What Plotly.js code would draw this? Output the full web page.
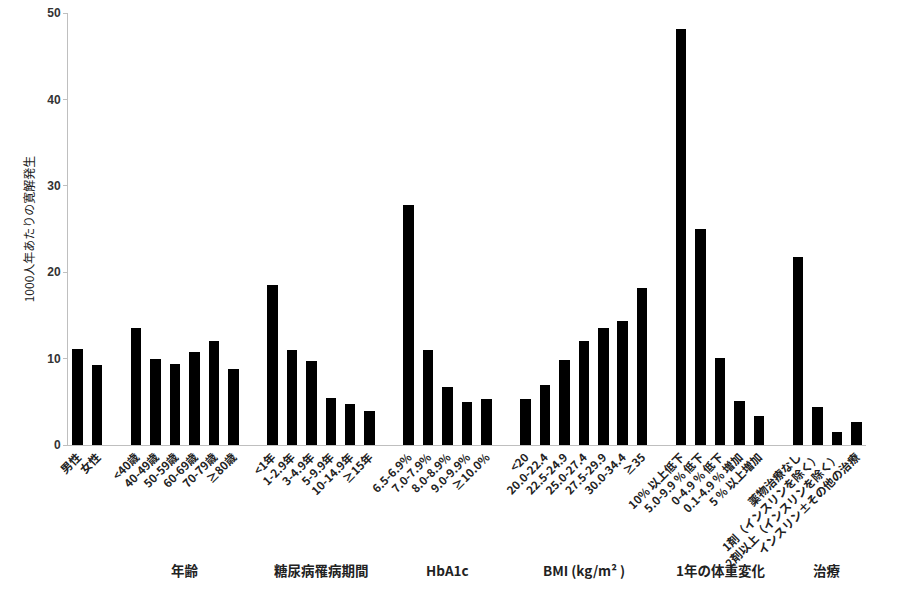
<!DOCTYPE html>
<html>
<head>
<meta charset="utf-8">
<script src="https://cdn.plot.ly/plotly-3.0.1.min.js"></script>
<style>html,body{margin:0;padding:0;background:#fff;}#chart{width:900px;height:594px;}</style>
</head>
<body>
<div id="chart"></div>
<script>
// Group names
var groupNames = ["", "年齢", "糖尿病罹病期間", "HbA1c", "BMI (kg/m² )", "1年の体重変化", "治療"];
// Category labels per group
var sexLabels = ["男性", "女性"];
var ageLabels = ["<40歳", "40-49歳", "50-59歳", "60-69歳", "70-79歳", "≥80歳"];
var durationLabels = ["<1年", "1-2.9年", "3-4.9年", "5-9.9年", "10-14.9年", "≥15年"];
var hba1cLabels = ["6.5-6.9%", "7.0-7.9%", "8.0-8.9%", "9.0-9.9%", "≥10.0%"];
var bmiLabels = ["<20", "20.0-22.4", "22.5-24.9", "25.0-27.4", "27.5-29.9", "30.0-34.4", "≥35"];
var weightLabels = ["10% 以上低下", "5.0-9.9 % 低下", "0-4.9 % 低下", "0.1-4.9 % 増加", "5 % 以上増加"];
var treatLabels = ["薬物治療なし", "1剤（インスリンを除く）", "2剤以上（インスリンを除く）", "インスリン±その他の治療"];
// Values (remission per 1000 person-years)
var sexValues = [11.1, 9.3];
var ageValues = [13.5, 10.0, 9.4, 10.8, 12.0, 8.8];
var durationValues = [18.5, 11.0, 9.7, 5.4, 4.7, 3.9];
var hba1cValues = [27.8, 11.0, 6.7, 5.0, 5.3];
var bmiValues = [5.3, 7.0, 9.8, 12.0, 13.5, 14.3, 18.2];
var weightValues = [48.2, 25.0, 10.1, 5.1, 3.3];
var treatValues = [21.8, 4.4, 1.5, 2.7];

var groupsL = [sexLabels, ageLabels, durationLabels, hba1cLabels, bmiLabels, weightLabels, treatLabels];
var groupsV = [sexValues, ageValues, durationValues, hba1cValues, bmiValues, weightValues, treatValues];

var xs = [], ys = [], tv = [], tt = [], annotations = [];
var slot = 0;
groupsL.forEach(function(labels, gi){
  var start = slot;
  labels.forEach(function(lab, i){
    xs.push(slot); ys.push(groupsV[gi][i]); tv.push(slot); tt.push(lab);
    slot++;
  });
  var center = (start + slot - 1) / 2;
  if (groupNames[gi]) {
    annotations.push({
      x: center, xref: 'x', y: -0.289, yref: 'paper',
      text: groupNames[gi], showarrow: false,
      font: {family: '"Noto Sans CJK JP", "Liberation Sans", sans-serif', size: 13.5, color: '#222', weight: 'bold'},
      xanchor: 'center', yanchor: 'middle'
    });
  }
  slot++; // gap
});
var lastSlot = slot - 2;

var trace = {
  type: 'bar', x: xs, y: ys, width: 0.54,
  marker: {color: '#000000'},
  hoverinfo: 'x+y'
};

var layout = {
  width: 900, height: 594,
  margin: {l: 68, r: 34, t: 13, b: 149},
  paper_bgcolor: '#ffffff', plot_bgcolor: '#ffffff',
  showlegend: false,
  bargap: 0,
  font: {family: '"Noto Sans CJK JP", "Liberation Sans", sans-serif', color: '#222'},
  xaxis: {
    range: [-0.5, lastSlot + 0.5],
    tickmode: 'array', tickvals: tv, ticktext: tt,
    tickangle: -45,
    tickfont: {family: '"Noto Sans CJK JP", "Liberation Sans", sans-serif', size: 11.5, color: '#222', weight: 'bold'},
    showline: true, linecolor: '#bfbfbf', linewidth: 1,
    ticks: '', showgrid: false, zeroline: false, automargin: false
  },
  yaxis: {
    range: [0, 50], tickvals: [0, 10, 20, 30, 40, 50],
    tickfont: {family: '"Liberation Sans", Arial, sans-serif', size: 12, color: '#333', weight: 'bold'},
    showline: true, linecolor: '#bfbfbf', linewidth: 1,
    ticks: 'outside', ticklen: 4, tickcolor: '#bfbfbf',
    showgrid: false, zeroline: false, automargin: false,
    title: {text: '1000人年あたりの寛解発生', standoff: 10,
      font: {family: '"Noto Sans CJK JP", sans-serif', size: 12, color: '#222'}}
  },
  annotations: annotations
};

Plotly.newPlot('chart', [trace], layout, {displayModeBar: false, staticPlot: true});
</script>
</body>
</html>
